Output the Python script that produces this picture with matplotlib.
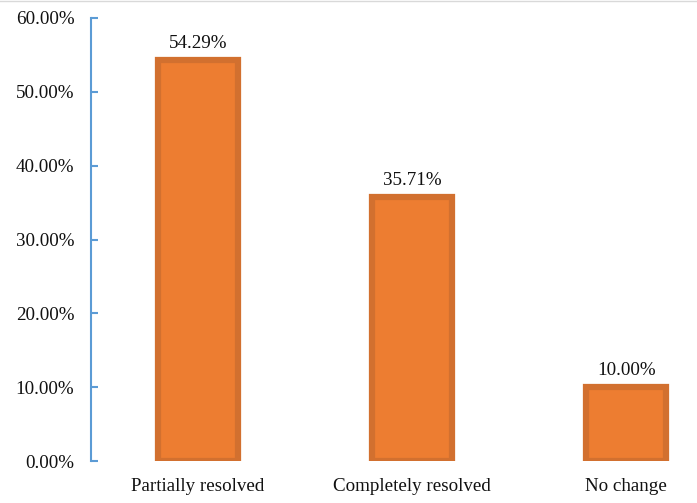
import matplotlib
matplotlib.use("Agg")
import matplotlib.pyplot as plt
from matplotlib.ticker import FuncFormatter
from matplotlib.lines import Line2D

categories = ["Partially resolved", "Completely resolved", "No change"]
values = [54.29, 35.71, 10.00]
yticks = [0, 10, 20, 30, 40, 50, 60]

plt.rcParams['font.family'] = ['Liberation Serif', 'DejaVu Serif']

fig = plt.figure(figsize=(6.97, 5.03), dpi=100)
ax = fig.add_axes([91 / 697, 1 - 461 / 503, 1 - 91 / 697, (461 - 18) / 503])

x = range(len(categories))
bars = ax.bar(x, values, width=0.375, color="#ED7D31", edgecolor="#D2702F", linewidth=4.5)

for xi, v in zip(x, values):
    ax.annotate(f"{v:.2f}%", (xi, v), xytext=(0, 6), textcoords="offset points",
                ha="center", va="bottom", fontsize=13.7, color="#111111")

ax.set_ylim(0, 60)
ax.set_xlim(-0.5, 2.33)
ax.set_yticks(yticks)
ax.yaxis.set_major_formatter(FuncFormatter(lambda v, p: f"{v:.2f}%"))
ax.set_xticks(list(x))
ax.set_xticklabels(categories)

for s in ["top", "right", "bottom"]:
    ax.spines[s].set_visible(False)
ax.spines["left"].set_color("#5B9BD5")
ax.spines["left"].set_linewidth(1.5)
ax.tick_params(axis="y", direction="in", length=5, width=1.5, color="#5B9BD5",
               pad=12, labelsize=13.7, labelcolor="#111111")
ax.tick_params(axis="x", length=0, pad=12, labelsize=13.7, labelcolor="#111111")

# thin border line at the top of the image
fig.add_artist(Line2D([0, 1], [0.998, 0.998], transform=fig.transFigure, color="#D9D9D9", lw=1))

fig.savefig("out.png", dpi=100)
